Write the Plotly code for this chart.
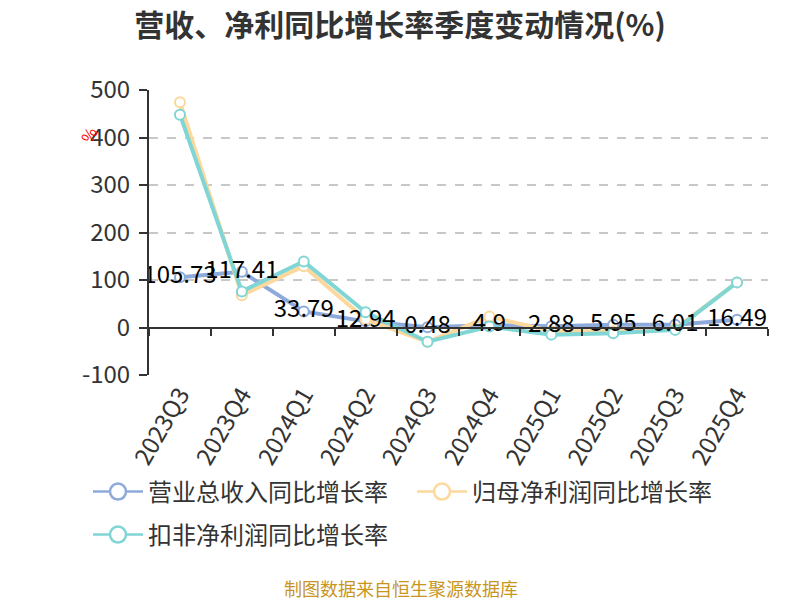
import plotly.graph_objects as go

categories = ["2023Q3", "2023Q4", "2024Q1", "2024Q2", "2024Q3", "2024Q4",
              "2025Q1", "2025Q2", "2025Q3", "2025Q4"]
revenue_yoy = [105.73, 117.41, 33.79, 12.94, 0.48, 4.9, 2.88, 5.95, 6.01, 16.49]
netprofit_yoy = [474, 68, 129, 17, -30, 23, -8, -8, -3, 95]
deducted_yoy = [448, 76, 139, 32, -30, 2, -15, -12, -5, 95]
series_names = ["营业总收入同比增长率", "归母净利润同比增长率", "扣非净利润同比增长率"]
y_ticks = [-100, 0, 100, 200, 300, 400, 500]

FONT = "Noto Sans CJK SC"
C_BLUE = "#8eaadb"
C_ORANGE = "#fdd89c"
C_TEAL = "#80d5d5"
legend_ids = ["legend", "legend2", "legend3"]

fig = go.Figure()
for name, vals, col, lg in zip(series_names, [revenue_yoy, netprofit_yoy, deducted_yoy],
                               [C_BLUE, C_ORANGE, C_TEAL], legend_ids):
    fig.add_trace(go.Scatter(
        x=categories, y=vals, name=name, mode="lines+markers", legendgroup=name,
        showlegend=False,
        line=dict(color=col, width=4),
        marker=dict(size=10, color="white", line=dict(color=col, width=2)),
        hoverinfo="skip"))
    # legend-only entry with larger symbol
    fig.add_trace(go.Scatter(
        x=[None], y=[None], name=name, mode="lines+markers", legendgroup=name,
        legend=lg,
        line=dict(color=col, width=2.5),
        marker=dict(size=18, color="white", line=dict(color=col, width=2.5))))

# data labels on top of everything
fig.add_trace(go.Scatter(
    x=categories, y=revenue_yoy, mode="text",
    text=[str(v) for v in revenue_yoy], textposition="middle center",
    textfont=dict(family=FONT, size=24, color="#000"),
    showlegend=False, hoverinfo="skip"))

# invisible trace for the zero-line axis
fig.add_trace(go.Scatter(x=categories, y=revenue_yoy, xaxis="x2", mode="markers",
                         marker=dict(opacity=0), showlegend=False, hoverinfo="skip"))


def legend_box(x_px, y_px):
    return dict(orientation="h", xref="container", x=x_px / 800, xanchor="left",
                yref="container", y=1 - y_px / 600, yanchor="middle",
                font=dict(family=FONT, size=24, color="#333"),
                itemwidth=50, bgcolor="rgba(0,0,0,0)")


fig.update_layout(
    width=800, height=600,
    margin=dict(l=149, r=32, t=90, b=225, autoexpand=False),
    paper_bgcolor="white", plot_bgcolor="white",
    font=dict(family=FONT, color="#333"),
    title=dict(text="<b>营收、净利同比增长率季度变动情况(%)</b>",
               x=0.5, xanchor="center", y=0.958, yanchor="middle",
               font=dict(family=FONT, size=30, color="#333")),
    xaxis=dict(type="category", categoryarray=categories, range=[-0.5, 9.5],
               showline=False, ticks="", showgrid=False, zeroline=False, automargin=False,
               tickangle=-60, tickfont=dict(family=FONT, size=24, color="#333")),
    xaxis2=dict(type="category", categoryarray=categories, range=[-0.5, 9.5],
                overlaying="x", anchor="free", position=100 / 600,
                showline=True, linecolor="#333", linewidth=2,
                ticks="outside", ticklen=7, tickwidth=2, tickcolor="#333",
                tickson="boundaries", showticklabels=False, showgrid=False),
    yaxis=dict(range=[-100, 500], tickvals=y_ticks, ticktext=[str(v) for v in y_ticks],
               automargin=False,
               showline=True, linecolor="#333", linewidth=2,
               ticks="outside", ticklen=8, tickwidth=2, tickcolor="#333",
               ticklabelstandoff=4,
               showgrid=True, gridcolor="#c8c8c8", griddash="dash", gridwidth=1.5,
               zeroline=False, tickfont=dict(family=FONT, size=24, color="#333")),
    legend=legend_box(88, 492),
    legend2=legend_box(412, 492),
    legend3=legend_box(88, 535),
    annotations=[
        dict(text="%", xref="paper", yref="paper", x=-77 / 619, y=(375 - 119) / 285,
             showarrow=False, textangle=-60, font=dict(family=FONT, size=16, color="red")),
        dict(text="制图数据来自恒生聚源数据库", xref="paper", yref="paper",
             x=(401 - 149) / 619, xanchor="center", y=-(588 - 375) / 285, yanchor="middle",
             showarrow=False, font=dict(family=FONT, size=18, color="#c8961e")),
    ],
)

fig.write_html("out.html")
